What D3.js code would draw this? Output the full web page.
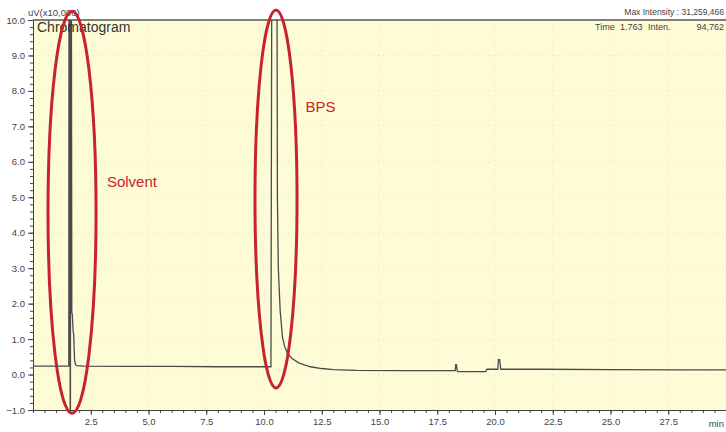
<!DOCTYPE html>
<html>
<head>
<meta charset="utf-8">
<script src="https://cdn.jsdelivr.net/npm/d3@7"></script>
<style>
  body { margin: 0; background: #fff; }
  svg text { font-family: "Liberation Sans Narrow", "Arial Narrow", "Liberation Sans", sans-serif; }
</style>
</head>
<body>
<div id="chart"></div>
<script>
        var width = 726, height = 432;
        var margin = {top: 20, left: 33, right: 0, bottom: 22};

        // retention time (min) and detector signal (uV x10,000)
        var times = [0.0, 0.5, 1.0, 1.50, 1.55, 1.56, 1.60, 1.61, 1.62, 1.63, 1.64, 1.66, 1.68, 1.70, 1.74, 1.76, 1.80, 1.84, 1.90, 2.2, 4.0, 6.0, 8.0, 10.0, 10.30,
                     10.34, 10.36, 10.54, 10.56, 10.58, 10.62, 10.70, 10.80, 10.90, 11.0, 11.2, 11.5, 12.0, 12.5, 13.0, 14.0, 16.0, 18.2,
                     18.28, 18.30, 18.33, 18.36, 18.40, 19.6, 19.65, 20.12, 20.15, 20.20, 20.25, 22.0, 25.0, 28.0, 30.0];
        var signal = [0.24, 0.24, 0.24, 0.24, 0.24, 12.0, 12.0, -1.5, -1.5, 12.0, 12.0, 12.0, 1.75, 1.70, 1.20, 1.15, 0.40, 0.28, 0.25, 0.24, 0.23, 0.23, 0.22, 0.22, 0.22,
                      12.0, 12.0, 12.0, 12.0, 5.0, 3.0, 1.8, 1.05, 0.78, 0.62, 0.46, 0.33, 0.22, 0.17, 0.14, 0.12, 0.11, 0.11,
                      0.11, 0.28, 0.28, 0.11, 0.08, 0.08, 0.15, 0.15, 0.42, 0.42, 0.15, 0.15, 0.14, 0.13, 0.13];

        var xTicks = [2.5, 5.0, 7.5, 10.0, 12.5, 15.0, 17.5, 20.0, 22.5, 25.0, 27.5];
        var yTicks = [-1.0, 0.0, 1.0, 2.0, 3.0, 4.0, 5.0, 6.0, 7.0, 8.0, 9.0, 10.0];

        // highlighted regions (center time, center signal, half width, half height)
        var marks = [
            {label: "Solvent", cx: 1.69, cy: 4.58, rx: 1.04, ry: 5.67, lx: 3.2, ly: 5.3},
            {label: "BPS", cx: 10.52, cy: 4.95, rx: 0.91, ry: 5.33, lx: 11.8, ly: 7.4}
        ];

        var x = d3.scaleLinear().domain([0, 30]).range([margin.left, width]);
        var y = d3.scaleLinear().domain([-1, 10]).range([410, 20]);

        var svg = d3.select("#chart").append("svg")
                    .attr("width", width)
                    .attr("height", height);

        svg.append("clipPath").attr("id", "clip")
           .append("rect")
           .attr("x", margin.left).attr("y", 20)
           .attr("width", width - margin.left).attr("height", 390);

        // plot background
        svg.append("rect")
           .attr("x", margin.left).attr("y", 20)
           .attr("width", width - margin.left).attr("height", 390)
           .attr("fill", "#fdfcd6");

        // dotted grid
        svg.selectAll(".vgrid").data(xTicks).enter().append("line")
           .attr("x1", d => x(d)).attr("x2", d => x(d))
           .attr("y1", 20).attr("y2", 410)
           .attr("stroke", "#e6e4c4").attr("stroke-dasharray", "1,4");
        svg.selectAll(".hgrid").data(yTicks).enter().append("line")
           .attr("y1", d => y(d)).attr("y2", d => y(d))
           .attr("x1", margin.left).attr("x2", width)
           .attr("stroke", "#e6e4c4").attr("stroke-dasharray", "1,4");

        // chromatogram trace
        var pts = times.map((t, i) => [t, signal[i]]);
        var line = d3.line().x(d => x(d[0])).y(d => y(d[1]));
        svg.append("path")
           .datum(pts)
           .attr("d", line)
           .attr("clip-path", "url(#clip)")
           .attr("fill", "none")
           .attr("stroke", "#4a4a4a")
           .attr("stroke-width", 1.3);

        // axes
        var xAxis = d3.axisBottom(x).tickValues(d3.range(0.5, 30, 0.5)).tickSize(3).tickFormat("");
        svg.append("g").attr("transform", "translate(0,410)").call(xAxis);
        svg.append("g").attr("transform", "translate(0,410)")
           .call(d3.axisBottom(x).tickValues(xTicks).tickSize(5).tickFormat(d3.format(".1f")))
           .call(g => g.select(".domain").remove());

        var yAxis = d3.axisLeft(y).tickValues(d3.range(-1, 10.01, 0.2)).tickSize(3).tickFormat("");
        svg.append("g").attr("transform", "translate(" + margin.left + ",0)").call(yAxis);
        svg.append("g").attr("transform", "translate(" + margin.left + ",0)")
           .call(d3.axisLeft(y).tickValues(yTicks).tickSize(5).tickFormat(d3.format(".1f")))
           .call(g => g.select(".domain").remove());

        svg.selectAll(".tick text").attr("font-size", 9.5).attr("fill", "#444");
        svg.selectAll(".domain, .tick line").attr("stroke", "#444");

        // top frame line
        svg.append("line")
           .attr("x1", margin.left).attr("x2", width)
           .attr("y1", 20).attr("y2", 20)
           .attr("stroke", "#555").attr("stroke-width", 1.5);

        svg.append("text").attr("x", 28).attr("y", 16).attr("font-size", 9.5).attr("fill", "#444").text("uV(x10,000)");
        svg.append("text").attr("x", 724).attr("y", 427).attr("font-size", 9.5).attr("fill", "#444").attr("text-anchor", "end").text("min");
        svg.append("text").attr("x", 724).attr("y", 15).attr("font-size", 8.5).attr("fill", "#444")
           .attr("text-anchor", "end").text("Max Intensity : 31,259,466");
        svg.append("text").attr("x", 37).attr("y", 32).attr("font-size", 14).attr("fill", "#333").text("Chromatogram");
        svg.append("text").attr("x", 595).attr("y", 30).attr("font-size", 9).attr("fill", "#444").text("Time");
        svg.append("text").attr("x", 620).attr("y", 30).attr("font-size", 9).attr("fill", "#444").text("1.763");
        svg.append("text").attr("x", 648).attr("y", 30).attr("font-size", 9).attr("fill", "#444").text("Inten.");
        svg.append("text").attr("x", 724).attr("y", 30).attr("font-size", 9).attr("fill", "#444").attr("text-anchor", "end").text("94,762");

        // annotation ellipses
        svg.selectAll(".ring").data(marks).enter().append("ellipse")
           .attr("cx", d => x(d.cx)).attr("cy", d => y(d.cy))
           .attr("rx", d => x(d.rx) - x(0)).attr("ry", d => y(0) - y(d.ry))
           .attr("fill", "none")
           .attr("stroke", "#c8232c")
           .attr("stroke-width", 3);
        svg.selectAll(".note").data(marks).enter().append("text")
           .attr("x", d => x(d.lx)).attr("y", d => y(d.ly))
           .attr("font-family", "Liberation Sans, Arial, sans-serif")
           .attr("font-size", 15)
           .attr("fill", "#c8232c")
           .text(d => d.label);
</script>
</body>
</html>
